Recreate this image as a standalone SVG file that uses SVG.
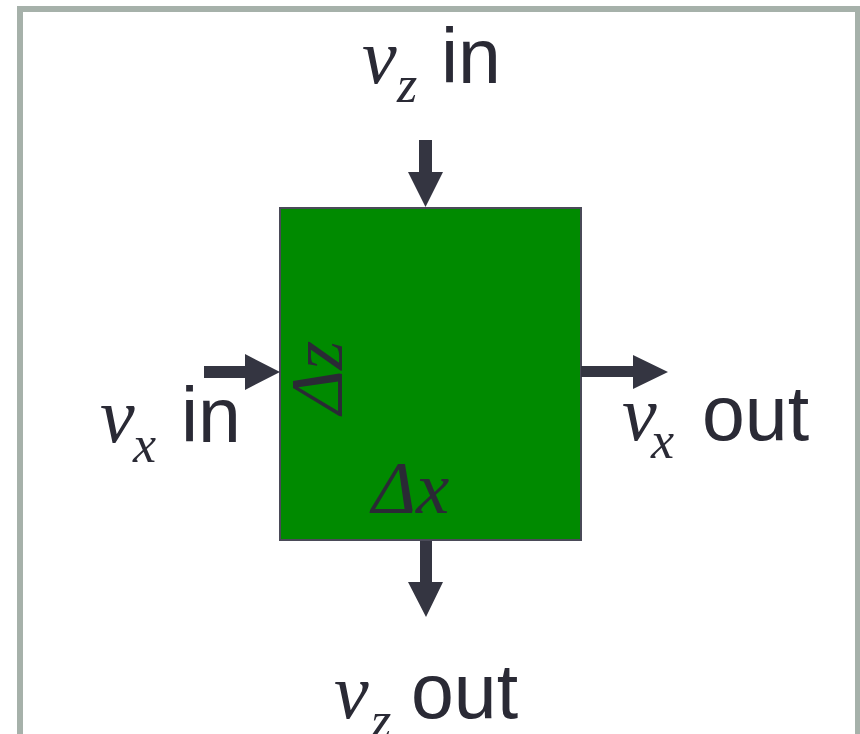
<svg xmlns="http://www.w3.org/2000/svg" width="860" height="734" viewBox="0 0 860 734">
<style>
.frame{fill:#ffffff;stroke:#a6b1aa;stroke-width:6}
.box{fill:#008a00;stroke:#4a4a58;stroke-width:2}
.arrow{fill:#343541}
.var{font-family:"Liberation Serif","Times New Roman",serif;font-style:italic;fill:#2a2a35}
.lbl{font-family:"Liberation Sans",Arial,sans-serif;font-size:77px;fill:#2a2a35}
</style>
<rect class="frame" x="20" y="9" width="838" height="728"/>
<g id="cell">
<rect class="box" x="280" y="208" width="301" height="332"/>
<text class="var" x="372" y="513" font-size="75">Δx</text>
<text class="var" font-size="75" transform="translate(342,414) rotate(-90)">Δz</text>
</g>
<g id="connectors">
<polygon class="arrow" points="419,140 432,140 432,172 443,172 425.5,207 408,172 419,172"/>
<polygon class="arrow" points="420,541 432,541 432,582 443,582 426,617 408,582 420,582"/>
<polygon class="arrow" points="204,366 245,366 245,354 280,372 245,390 245,378 204,378"/>
<polygon class="arrow" points="581,366 633,366 633,355 668,372 633,389 633,377 581,377"/>
</g>
<g id="vz-in">
<text class="var" x="362" y="83" font-size="78">v</text>
<text class="var" x="397" y="102" font-size="52">z</text>
<text class="lbl" x="441" y="83">in</text>
</g>
<g id="vx-in">
<text class="var" x="100" y="442" font-size="78">v</text>
<text class="var" x="133" y="462" font-size="52">x</text>
<text class="lbl" x="181" y="442">in</text>
</g>
<g id="vx-out">
<text class="var" x="622" y="440" font-size="78">v</text>
<text class="var" x="651" y="458" font-size="52">x</text>
<text class="lbl" x="702" y="440">out</text>
</g>
<g id="vz-out">
<text class="var" x="334" y="718" font-size="78">v</text>
<text class="var" x="371" y="738" font-size="52">z</text>
<text class="lbl" x="411" y="718">out</text>
</g>
</svg>
